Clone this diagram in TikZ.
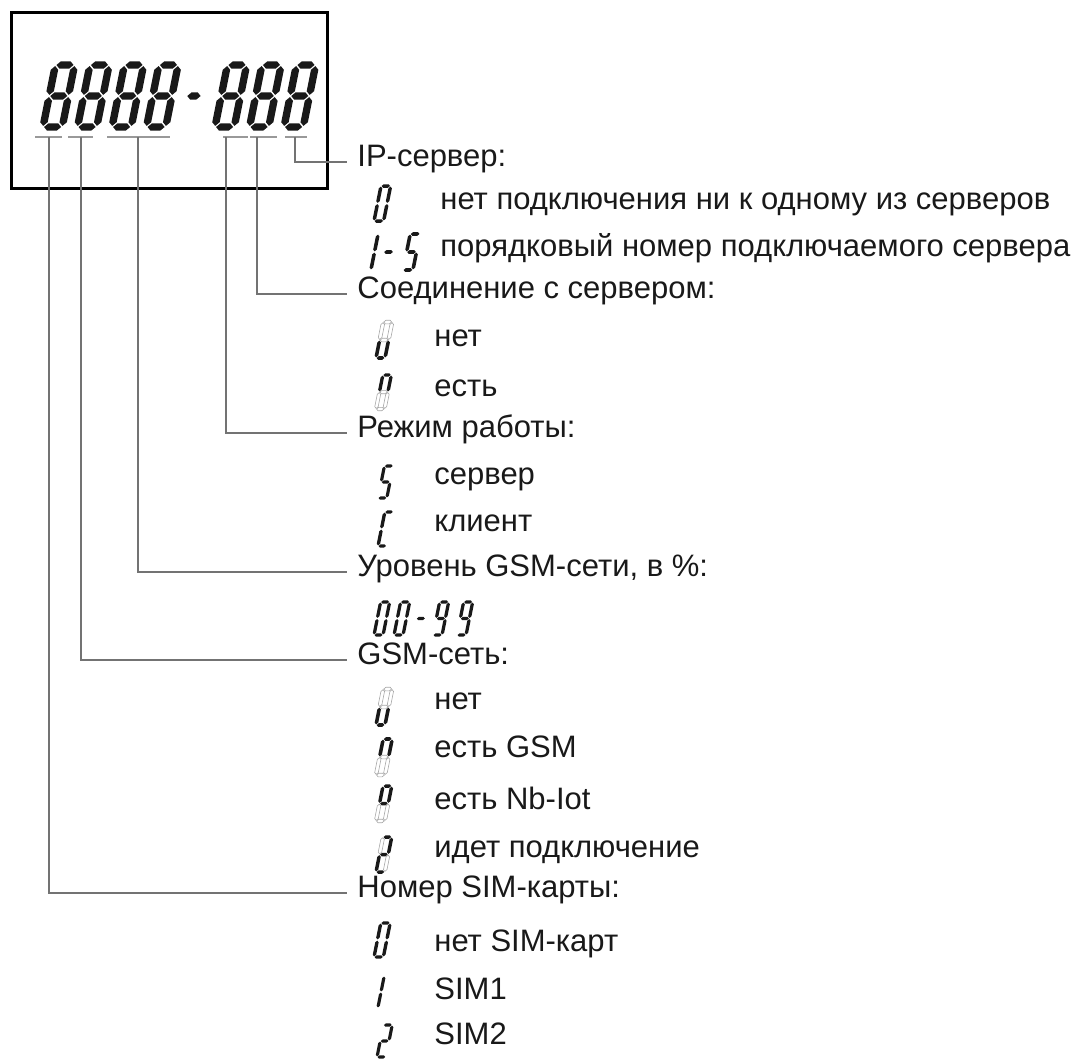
\documentclass[tikz,border=0pt]{standalone}
\usepackage{fontspec}
\setmainfont{Liberation Sans}
\usepackage{tikz}
\usetikzlibrary{positioning}

% seven-segment digit: half thickness and gap of a segment
\newcommand{\lcdt}{0.1}
\newcommand{\lcdg}{0.035}
\newcommand{\hseg}[3]{({#1+\lcdg},#3) -- ({#1+\lcdg+\lcdt},{#3+\lcdt}) -- ({#2-\lcdg-\lcdt},{#3+\lcdt}) -- ({#2-\lcdg},#3) -- ({#2-\lcdg-\lcdt},{#3-\lcdt}) -- ({#1+\lcdg+\lcdt},{#3-\lcdt}) -- cycle}
\newcommand{\vseg}[3]{(#1,{#2+\lcdg}) -- ({#1+\lcdt},{#2+\lcdg+\lcdt}) -- ({#1+\lcdt},{#3-\lcdg-\lcdt}) -- (#1,{#3-\lcdg}) -- ({#1-\lcdt},{#3-\lcdg-\lcdt}) -- ({#1-\lcdt},{#2+\lcdg+\lcdt}) -- cycle}
\newcommand{\lcdsega}{\hseg{0}{\lcdw}{2}}
\newcommand{\lcdsegb}{\vseg{\lcdw}{1}{2}}
\newcommand{\lcdsegc}{\vseg{\lcdw}{0}{1}}
\newcommand{\lcdsegd}{\hseg{0}{\lcdw}{0}}
\newcommand{\lcdsege}{\vseg{0}{0}{1}}
\newcommand{\lcdsegf}{\vseg{0}{1}{2}}
\newcommand{\lcdsegg}{\hseg{0}{\lcdw}{1}}
% #1 bottom left, #2 half height, #3 width, #4 lit segments, #5 dim segments
\newcommand{\lcdigit}[5]{%
  \begin{scope}[shift={#1}, yscale=-1, scale=#2, xslant=-0.2]
    \def\lcdw{#3}%
    \def\lcdtmp{#5}%
    \ifx\lcdtmp\empty\else
      \foreach \s in {#5} \path[dimseg] \csname lcdseg\s\endcsname;
    \fi
    \foreach \s in {#4} \path[litseg] \csname lcdseg\s\endcsname;
  \end{scope}}

\begin{document}
\begin{tikzpicture}[x=0.5pt, y=-0.5pt,
    lbl/.style={anchor=west, inner sep=0pt, text height=0.72em, text depth=0.25em,
      font=\fontsize{15.5}{18}\selectfont, text=black!90},
    wire/.style={draw=black!55, line width=0.8pt, shorten >=5pt},
    uline/.style={draw=black!40, line width=1pt},
    litseg/.style={fill=black!90},
    dimseg/.style={draw=black!35, fill=white, line width=0.3pt}]

    \useasboundingbox (0,0) rectangle (1074,1060);

    % Display with the digits 8888-888
    \draw[line width=1.5pt] (11,12) rectangle (327,188);
    \begin{scope}
        \def\lcdt{0.12}
        \foreach \x in {43,77.5,112,146.5,215,249.5,284}
            {\lcdigit{(\x,127)}{31}{0.62}{a,b,c,d,e,f,g}{}}
        \lcdigit{(180,127)}{31}{0.5}{g}{}
    \end{scope}

    % Marks under the digit groups
    \foreach \a/\b in {35/62, 68/93, 107/170, 223/248, 250/277, 285/307}
        \draw[uline] (\a,137) -- (\b,137);
    \coordinate (tsim)   at (49,137);
    \coordinate (tgsm)   at (81,137);
    \coordinate (tlevel) at (138,137);
    \coordinate (tmode)  at (226,137);
    \coordinate (tlink)  at (257,137);
    \coordinate (tip)    at (295,137);

    % Headings
    \node[lbl] (ip)    at (357,162) {IP-сервер:};
    \node[lbl] (link)  at (357,294) {Соединение с сервером:};
    \node[lbl] (mode)  at (357,433) {Режим работы:};
    \node[lbl] (level) at (357,572) {Уровень GSM-сети, в \%:};
    \node[lbl] (gsm)   at (357,660) {GSM-сеть:};
    \node[lbl] (sim)   at (357,893) {Номер SIM-карты:};

    % Leader lines
    \draw[wire] (tip)    |- (ip.west);
    \draw[wire] (tlink)  |- (link.west);
    \draw[wire] (tmode)  |- (mode.west);
    \draw[wire] (tlevel) |- (level.west);
    \draw[wire] (tgsm)   |- (gsm.west);
    \draw[wire] (tsim)   |- (sim.west);

    % IP-server
    \lcdigit{(374,221)}{17.5}{0.55}{a,b,c,d,e,f}{}
    \lcdigit{(361,270)}{18}{0.55}{b,c}{}
    \lcdigit{(380,270)}{18}{0.55}{g}{}
    \lcdigit{(403,270)}{18}{0.55}{a,f,g,c,d}{}
    \node[lbl] (ip0)  at (440,205) {нет подключения ни к одному из серверов};
    \node[lbl] (ip15) at (440,252) {порядковый номер подключаемого сервера};

    % Connection
    \lcdigit{(376,358)}{18}{0.5}{c,d,e}{a,b,f,g}
    \lcdigit{(376,409)}{17}{0.5}{a,b,f}{c,d,e,g}
    \node[lbl] (link0) at (434,342) {нет};
    \node[lbl] (link1) at (434,392) {есть};

    % Mode
    \lcdigit{(378,498)}{16}{0.55}{a,f,g,c,d}{}
    \lcdigit{(378,546)}{17}{0.5}{a,f,e,d}{}
    \node[lbl] (modeS) at (434,480) {сервер};
    \node[lbl] (modeC) at (434,527) {клиент};

    % Level
    \foreach \x in {374,394}
        {\lcdigit{(\x,635)}{16.5}{0.55}{a,b,c,d,e,f}{}}
    \lcdigit{(413,635)}{16.5}{0.55}{g}{}
    \foreach \x in {433,457}
        {\lcdigit{(\x,635)}{16.5}{0.55}{a,b,c,d,f,g}{}}

    % GSM network
    \lcdigit{(376,725)}{18}{0.5}{c,d,e}{a,b,f,g}
    \lcdigit{(376,775)}{18}{0.5}{a,b,f}{c,d,e,g}
    \lcdigit{(376,821)}{17.5}{0.5}{a,b,f,g}{c,d,e}
    \lcdigit{(376,872)}{17.5}{0.5}{a,b,g,e,d}{c,f}
    \node[lbl] (gsm0) at (434,705) {нет};
    \node[lbl] (gsm1) at (434,753) {есть GSM};
    \node[lbl] (gsm2) at (434,805) {есть Nb-Iot};
    \node[lbl] (gsm3) at (434,853) {идет подключение};

    % SIM card
    \lcdigit{(374,957)}{17}{0.55}{a,b,c,d,e,f}{}
    \lcdigit{(369,1008)}{16}{0.55}{b,c}{}
    \lcdigit{(377,1057)}{16}{0.55}{a,b,g,e,d}{}
    \node[lbl] (sim0) at (434,947)  {нет SIM-карт};
    \node[lbl] (sim1) at (434,995)  {SIM1};
    \node[lbl] (sim2) at (434,1040) {SIM2};
\end{tikzpicture}
\end{document}
